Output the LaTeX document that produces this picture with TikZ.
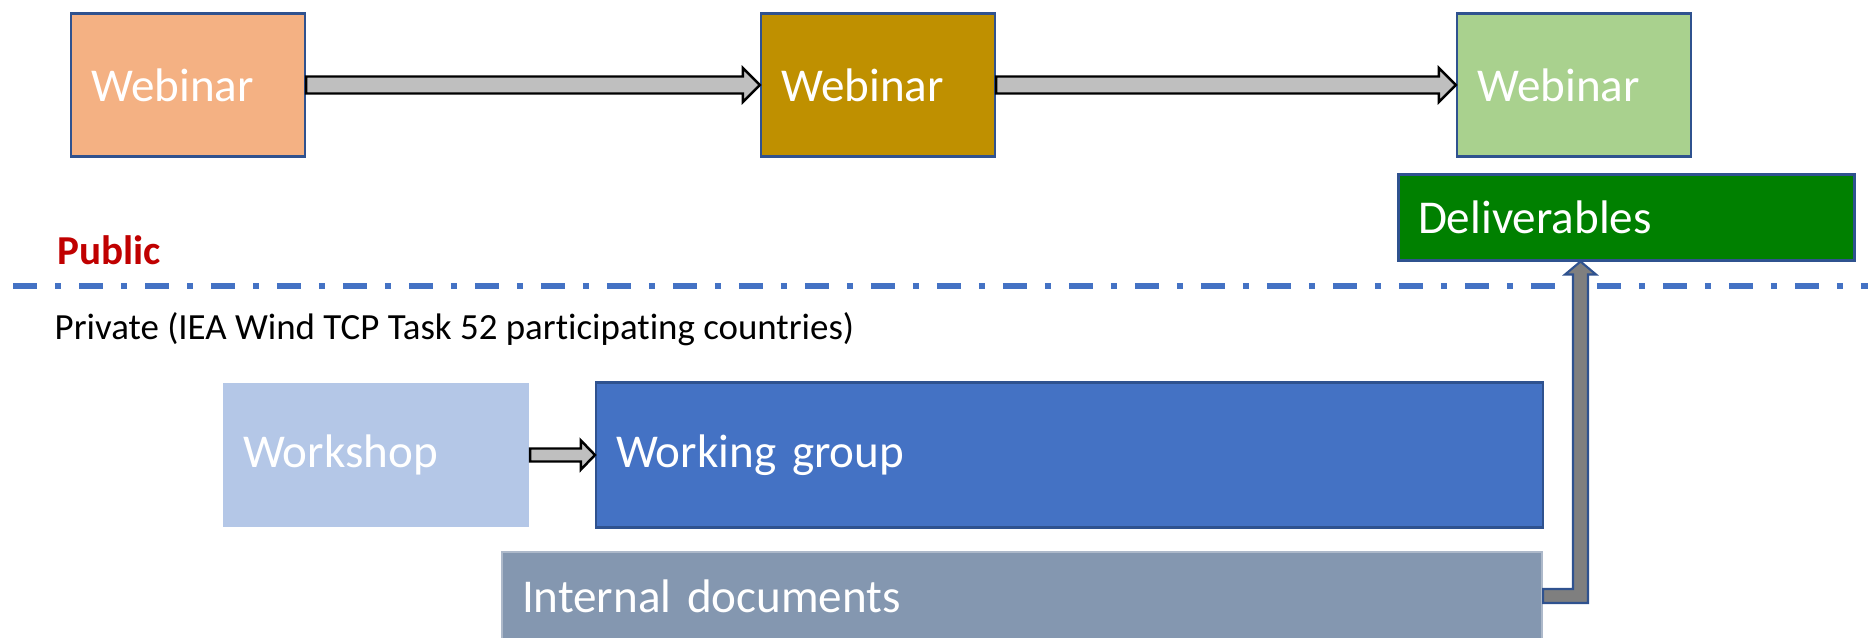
\documentclass[tikz,border=0pt]{standalone}
\usepackage{fontspec}
\setmainfont{Carlito}[Ligatures=NoCommon]
\usepackage{tikz}
\usetikzlibrary{calc}

\definecolor{bordblue}{HTML}{2F528F}
\definecolor{webone}{HTML}{F4B183}
\definecolor{webtwo}{HTML}{BF9000}
\definecolor{webthree}{HTML}{A9D18E}
\definecolor{delivgreen}{HTML}{008000}
\definecolor{shoplight}{HTML}{B4C7E7}
\definecolor{groupblue}{HTML}{4472C4}
\definecolor{docgray}{HTML}{8497B0}
\definecolor{docbord}{HTML}{ADB9CA}
\definecolor{pubred}{HTML}{C00000}
\definecolor{arrgray}{HTML}{BFBFBF}
\definecolor{elbowgray}{HTML}{7F7F7F}

\tikzset{
  box/.style = {rectangle, draw=bordblue, line width=.6pt, text=white,
    font=\fontsize{13.4}{16}\selectfont, align=left, inner xsep=.2cm, inner ysep=0pt},
  webbox/.style = {box, text width=1.94cm, minimum height=1.43cm},
  arrbody/.style = {fill=arrgray, draw=black, line width=.7pt, line join=miter},
}

% block arrow from the east side of #1 to the west side of #2
% #3 half shaft, #4 half head, #5 head length
\newcommand{\blockarr}[5]{%
  \draw[arrbody] ($(#1.east)+(0,#3)$) -- ($(#2.west)+(-#5,#3)$) -- ($(#2.west)+(-#5,#4)$)
    -- (#2.west) -- ($(#2.west)+(-#5,-#4)$) -- ($(#2.west)+(-#5,-#3)$)
    -- ($(#1.east)+(0,-#3)$) -- cycle;}

\begin{document}
\begin{tikzpicture}
\useasboundingbox (0,0) rectangle (18.68,-6.37);
%public side: the three webinars
\node[webbox, fill=webone] (web1) at (1.88,-.85) {Webinar};
\node[webbox, fill=webtwo] (web2) at (8.78,-.85) {Webinar};
\node[webbox, fill=webthree] (web3) at (15.74,-.85) {Webinar};
\blockarr{web1}{web2}{.085}{.17}{.17}
\blockarr{web2}{web3}{.085}{.17}{.17}
\node[box, fill=delivgreen, line width=.85pt, text width=4.16cm, minimum height=.86cm] (deliv) at (16.26,-2.17) {Deliverables};
%border between public and private
\node[anchor=base west, inner sep=0pt, text=pubred, font=\fontsize{11.7}{14}\selectfont\bfseries] (pub) at (.57,-2.64) {Public};
\coordinate (lineL) at (.13,-2.86);
\coordinate (lineR) at (18.68,-2.86);
\draw[groupblue, line width=1.6pt, dash pattern=on .24cm off .18cm on .06cm off .18cm] (lineL) -- (lineR);
\node[anchor=base west, inner sep=0pt, font=\fontsize{10.5}{13}\selectfont] (priv) at (.54,-3.39) {Private (IEA Wind TCP Task 52 participating countries)};
%private side
\node[box, draw=none, fill=shoplight, text width=2.66cm, minimum height=1.44cm] (shop) at (3.76,-4.55) {Workshop};
\node[box, fill=groupblue, text width=9.07cm, minimum height=1.45cm] (group) at (10.695,-4.55) {Working group};
\blockarr{shop}{group}{.065}{.145}{.14}
\node[box, draw=docbord, fill=docgray, text width=10.0cm, minimum height=.88cm] (idoc) at (10.22,-5.96) {Internal documents};
%elbow arrow up to the deliverables
\coordinate (bendx) at (15.805,0);
\coordinate (turn) at (idoc.east -| bendx);
\coordinate (tip) at (deliv.south -| bendx);
\draw[fill=elbowgray, draw=bordblue, line width=.6pt, line join=miter]
  ($(idoc.east)+(0,.07)$) -- ($(turn)+(-.075,.07)$) -- ($(tip)+(-.075,-.13)$)
  -- ($(tip)+(-.155,-.13)$) -- (tip) -- ($(tip)+(.155,-.13)$) -- ($(tip)+(.075,-.13)$)
  -- ($(turn)+(.075,-.07)$) -- ($(idoc.east)+(0,-.07)$) -- cycle;
\end{tikzpicture}
\end{document}
